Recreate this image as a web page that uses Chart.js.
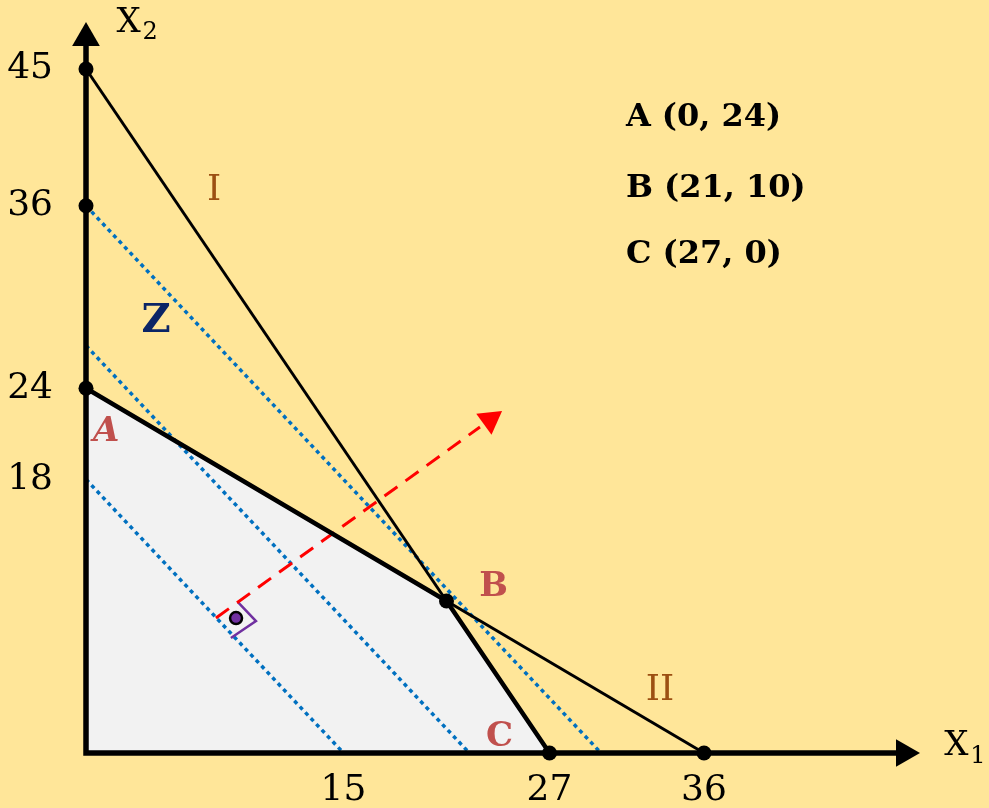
<!DOCTYPE html>
<html>
<head>
<meta charset="utf-8">
<script src="https://cdn.jsdelivr.net/npm/chart.js@4"></script>
<style>
  body { margin: 0; background: #FFE699; }
  canvas { display: block; }
</style>
</head>
<body>
<canvas id="lp" width="989" height="808"></canvas>
<script>
// tick labels on the two axes
const xTicks = [15, 27, 36];
const yTicks = [18, 24, 36, 45];

// constraint lines I and II
const lineI = [{x: 0, y: 45}, {x: 27, y: 0}];
const lineII = [{x: 0, y: 24}, {x: 36, y: 0}];

// feasible region A - B - C (filled down to x1 axis)
const region = [{x: 0, y: 24}, {x: 21, y: 10}, {x: 27, y: 0}];

// marked points
const dots = [
  {x: 0, y: 45}, {x: 0, y: 36}, {x: 0, y: 24},
  {x: 21, y: 10}, {x: 27, y: 0}, {x: 36, y: 0}
];

// objective function lines Z (dotted)
const zLow = [{x: 0, y: 18}, {x: 15, y: 0}];
const zMid = [{x: 0, y: 26.8}, {x: 22.33, y: 0}];
const zHigh = [{x: 0, y: 36}, {x: 30, y: 0}];

// gradient direction arrow
const gradLine = [{x: 7.57, y: 8.88}, {x: 22.95, y: 21.45}];
const gradTip = [{x: 23.53, y: 21.92}];

// right angle sign and its dot
const rightAngle = [{x: 8.85, y: 9.93}, {x: 9.90, y: 8.68}, {x: 8.44, y: 7.57}];
const angleDot = [{x: 8.74, y: 8.88}];

// axes with arrow heads
const axes = [{x: 0, y: 46.9}, {x: 0, y: 0}, {x: 47.4, y: 0}];
const yArrow = [{x: 0, y: 47.04}];
const xArrow = [{x: 47.65, y: 0}];

const vertices = ['A (0, 24)', 'B (21, 10)', 'C (27, 0)'];

function seg(data, color, width, extra) {
  return Object.assign({
    data: data, borderColor: color, borderWidth: width,
    pointRadius: 0, fill: false, tension: 0, clip: false
  }, extra || {});
}

function head(data, rot, color, r) {
  return {
    data: data, showLine: false, pointStyle: 'triangle', pointRotation: rot,
    pointRadius: r, pointBackgroundColor: color, pointBorderWidth: 0, clip: false
  };
}

const serif = 'DejaVu Serif';

const labelsPlugin = {
  id: 'labels',
  afterDatasetsDraw(chart) {
    const ctx = chart.ctx;
    const sx = chart.scales.x, sy = chart.scales.y;
    const px = v => sx.getPixelForValue(v);
    const py = v => sy.getPixelForValue(v);
    ctx.save();
    ctx.textBaseline = 'middle';
    ctx.textAlign = 'center';

    // +3px: middle baseline sits a bit above the cap centre
    function put(t, x, y, font, color) {
      ctx.font = font;
      ctx.fillStyle = color;
      ctx.fillText(t, px(x), py(y) + 3);
    }
    put('I', 7.46, 37.2, '36px ' + serif, '#9C4F12');
    put('II', 33.43, 4.28, '36px ' + serif, '#9C4F12');
    put('Z', 4.08, 28.55, 'bold 40px ' + serif, '#0B2566');
    put('A', 1.17, 21.28, 'italic bold 34px ' + serif, '#C0504D');
    put('B', 23.74, 11.09, 'bold 34px ' + serif, '#C0504D');
    put('C', 24.09, 1.25, 'bold 34px ' + serif, '#C0504D');

    // axis names with subscripts
    ctx.textAlign = 'left';
    ctx.fillStyle = '#000';
    ctx.font = '34px ' + serif;
    ctx.fillText('X', px(2.48) - 12, py(48.16) + 2);
    ctx.font = '24px ' + serif;
    ctx.fillText('2', px(2.48) + 14, py(48.16) + 12);
    ctx.font = '34px ' + serif;
    ctx.fillText('X', px(50.7) - 12, py(0.55) + 2);
    ctx.font = '24px ' + serif;
    ctx.fillText('1', px(50.7) + 14, py(0.55) + 12);

    // vertex list
    ctx.font = 'bold 32px ' + serif;
    const rows = [41.8, 37.15, 32.8];
    vertices.forEach((t, i) => ctx.fillText(t, px(31.45), py(rows[i])));
    ctx.restore();
  }
};

const config = {
  type: 'line',
  data: {
    datasets: [
      {data: dots, showLine: false, pointRadius: 7.5, pointBackgroundColor: '#000', pointBorderWidth: 0, clip: false},
      head(yArrow, 0, '#000', 16),
      head(xArrow, 90, '#000', 16),
      seg(angleDot, '#000', 0, {showLine: false, pointRadius: 6, pointBackgroundColor: '#7030A0', pointBorderColor: '#000', pointBorderWidth: 2.5}),
      seg(axes, '#000', 5.5, {borderJoinStyle: 'miter'}),
      seg(region, '#000', 4.5, {fill: 'origin', backgroundColor: '#F2F2F2'}),
      seg(lineI, '#000', 3),
      seg(lineII, '#000', 3),
      head(gradTip, 54, '#FF0000', 15),
      seg(gradLine, '#FF0000', 3, {borderDash: [16, 10]}),
      seg(rightAngle, '#7030A0', 2.5),
      seg(zLow, '#0070C0', 3.5, {borderDash: [4, 4]}),
      seg(zMid, '#0070C0', 3.5, {borderDash: [4, 4]}),
      seg(zHigh, '#0070C0', 3.5, {borderDash: [4, 4]})
    ]
  },
  options: {
    responsive: false,
    animation: false,
    layout: { autoPadding: false, padding: { top: 8.2, right: 44.65, left: 0, bottom: 0 } },
    plugins: {
      legend: { display: false },
      tooltip: { enabled: false },
      filler: { drawTime: 'beforeDatasetsDraw' }
    },
    scales: {
      x: {
        type: 'linear', min: 0, max: 50,
        grid: { display: false }, border: { display: false },
        ticks: { autoSkip: false, maxRotation: 0, padding: 8, color: '#000', font: { family: serif, size: 36 } },
        afterBuildTicks: s => { s.ticks = xTicks.map(v => ({value: v})); },
        afterFit: s => { s.height = 55; s.paddingLeft = 0; s.paddingRight = 0; }
      },
      y: {
        type: 'linear', min: 0, max: 49,
        grid: { display: false }, border: { display: false },
        ticks: { autoSkip: false, padding: 25, color: '#000', font: { family: serif, size: 36 } },
        afterBuildTicks: s => { s.ticks = yTicks.map(v => ({value: v})); },
        afterFit: s => { s.width = 86; s.paddingTop = 0; s.paddingBottom = 0; }
      }
    }
  },
  plugins: [labelsPlugin]
};

const myChart = new Chart(document.getElementById('lp'), config);
</script>
</body>
</html>
